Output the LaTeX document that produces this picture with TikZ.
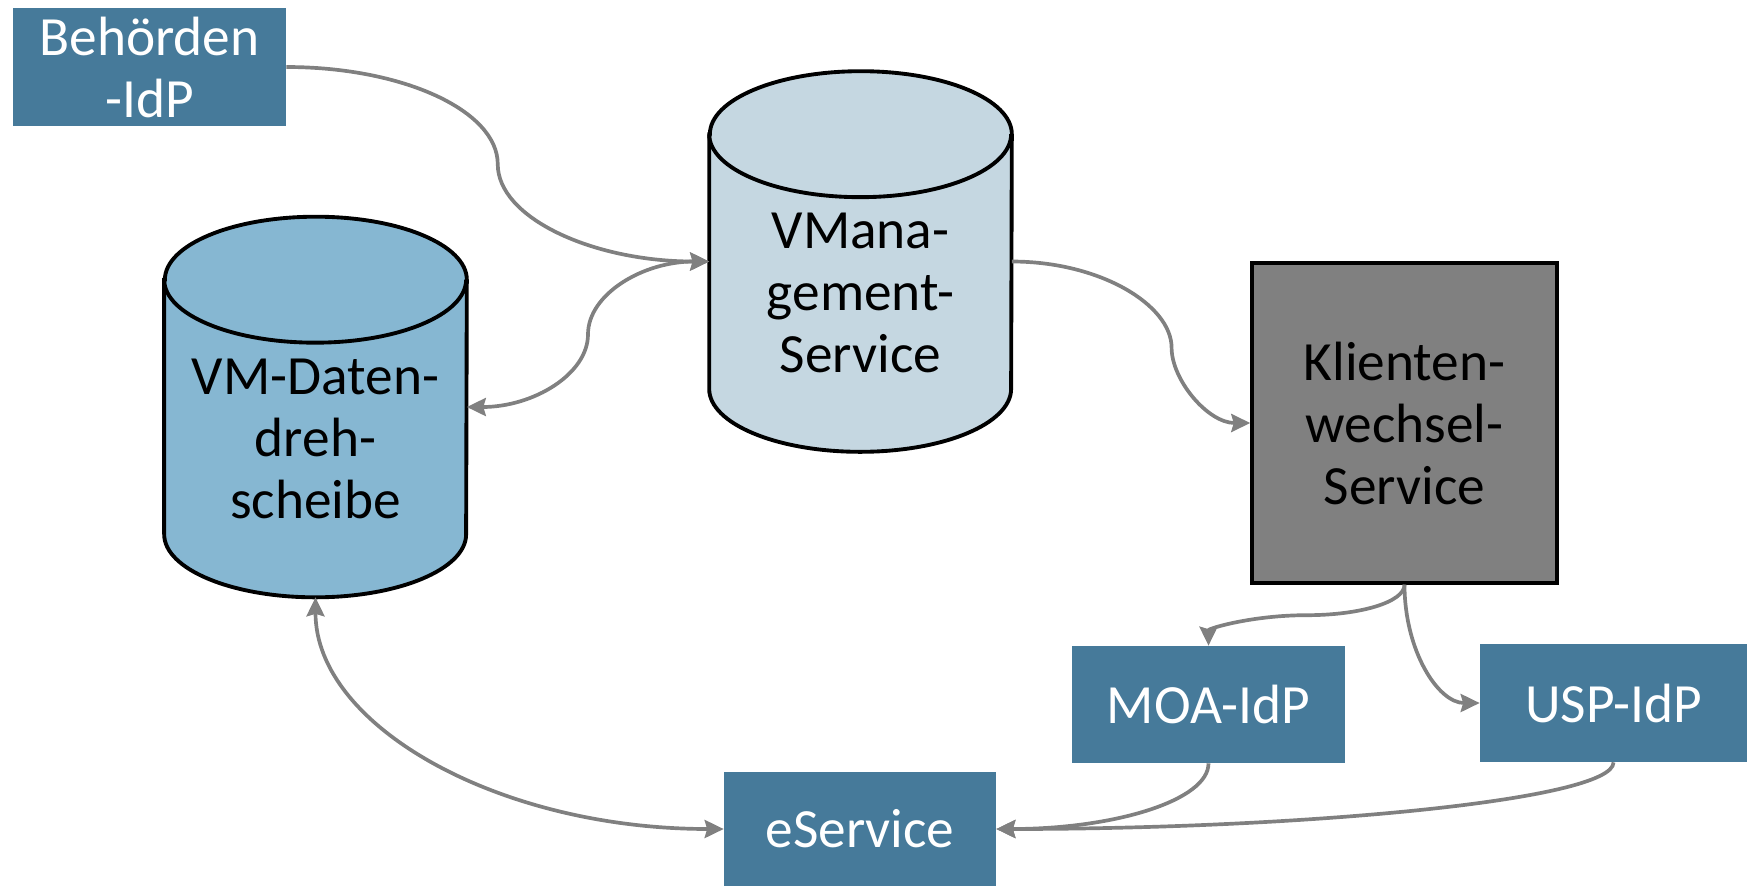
\documentclass[tikz,border=0pt]{standalone}
\usepackage{fontspec}
\setmainfont{Carlito}
\usetikzlibrary{calc}
\usetikzlibrary{arrows.meta}

\definecolor{idpblue}{HTML}{467A9A}
\definecolor{hubblue}{HTML}{86B7D2}
\definecolor{mgmtblue}{HTML}{C5D7E1}
\definecolor{kwsgray}{HTML}{808080}
\definecolor{linkgray}{HTML}{808080}

\pgfdeclarelayer{background}
\pgfsetlayers{background,main}

\tikzset{
  bigtext/.style={font=\fontsize{31.5}{35.3}\selectfont, align=center, inner sep=0pt},
  idpbox/.style={bigtext, fill=idpblue, text=white},
  dbbody/.style={bigtext, minimum width=6.04cm, minimum height=6.34cm},
  dbline/.style={draw=black, line width=2.2pt},
  kwsbox/.style={bigtext, fill=kwsgray, draw=black, line width=2pt, minimum width=6.1cm, minimum height=6.4cm},
  link/.style={draw=linkgray, line width=2.1pt, -{Stealth[length=0.38cm,width=0.36cm,inset=0.05cm]}},
  linkboth/.style={link, {Stealth[length=0.38cm,width=0.36cm,inset=0.05cm]}-{Stealth[length=0.38cm,width=0.36cm,inset=0.05cm]}},
}

\begin{document}
\begin{tikzpicture}[x=0.02cm,y=-0.02cm]
        \useasboundingbox (0,0) rectangle (1747,886);

        %identity providers and eService
        \node[idpbox, minimum width=5.46cm, minimum height=2.36cm] (beh) at (149.5,67) {Behörden\\-IdP};
        \node[idpbox, minimum width=5.46cm, minimum height=2.34cm] (moa) at (1208.5,704.5) {MOA-IdP};
        \node[idpbox, minimum width=5.34cm, minimum height=2.36cm] (usp) at (1613.5,703) {USP-IdP};
        \node[idpbox, minimum width=5.44cm, minimum height=2.28cm] (esv) at (860,829) {eService};

        %cylinders
        \node[dbbody] (vmd) at (315.5,438.5) {VM-Daten-\\dreh-\\scheibe};
        \node[dbbody] (vmg) at (860.5,293) {VMana-\\gement-\\Service};
        \begin{pgfonlayer}{background}
        \filldraw[dbline, fill=hubblue] (vmd.north west) -- ([yshift=1.26cm]vmd.south west) arc[start angle=180, end angle=360, x radius=3.02cm, y radius=1.26cm] -- (vmd.north east) arc[start angle=0, end angle=180, x radius=3.02cm, y radius=1.26cm] -- cycle;
        \draw[dbline] (vmd.north west) arc[start angle=180, end angle=360, x radius=3.02cm, y radius=1.26cm];
        \filldraw[dbline, fill=mgmtblue] (vmg.north west) -- ([yshift=1.26cm]vmg.south west) arc[start angle=180, end angle=360, x radius=3.02cm, y radius=1.26cm] -- (vmg.north east) arc[start angle=0, end angle=180, x radius=3.02cm, y radius=1.26cm] -- cycle;
        \draw[dbline] (vmg.north west) arc[start angle=180, end angle=360, x radius=3.02cm, y radius=1.26cm];
        \end{pgfonlayer}

        %grey box
        \node[kwsbox] (kws) at (1404.5,423) {Klienten-\\wechsel-\\Service};

        %side points of the cylinders
        \coordinate (vmgin) at ([yshift=.63cm]vmg.west);
        \coordinate (vmgout) at ([yshift=.63cm]vmg.east);
        \coordinate (vmdin) at ([yshift=.63cm]vmd.east);
        \coordinate (bend3) at ($(vmgout)!.67!(kws.west)+(0,-22)$);

        %connectors
        \draw[link] (beh.east) to[out=0,in=90,out looseness=1.28,in looseness=0.59] ($(beh.east)!.5!(vmgin)$) to[out=-90,in=180,out looseness=0.59,in looseness=1.28] (vmgin);
        \draw[linkboth] (vmgin) to[out=180,in=90,out looseness=1.21,in looseness=0.72] ($(vmgin)!.5!(vmdin)$) to[out=-90,in=0,out looseness=0.72,in looseness=1.21] (vmdin);
        \draw[link] (vmgout) to[out=0,in=90,out looseness=1.25,in looseness=0.6] (bend3) to[out=-90,in=180,out looseness=0.75,in looseness=1.0] (kws.west);
        \draw[link] (kws.south) to[out=-90,in=0,out looseness=0.43,in looseness=1.35] ($(kws.south)!.5!(moa.north)$) to[out=180,in=90,out looseness=1.35,in looseness=0.43] (moa.north);
        \draw[link] (kws.south) to[out=-90,in=180,out looseness=1.2,in looseness=0.76] (usp.west);
        \draw[link] (moa.south) to[out=-90,in=0,out looseness=0.43,in looseness=1.35] (esv.east);
        \draw[link] (usp.south) .. controls +(0,38) and +(304,0) .. (esv.east);
        \draw[linkboth] (vmd.south) to[out=-90,in=180,out looseness=0.7,in looseness=1.23] (esv.west);
    \end{tikzpicture}
\end{document}
